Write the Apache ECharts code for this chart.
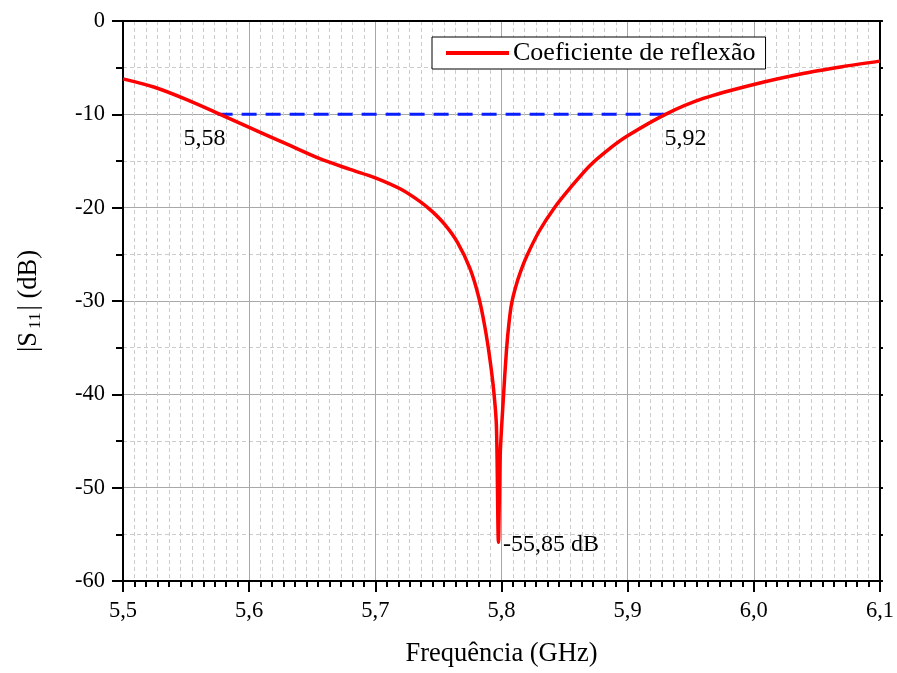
<!DOCTYPE html>
<html>
<head>
<meta charset="utf-8">
<script src="https://cdn.jsdelivr.net/npm/echarts@6/dist/echarts.min.js"></script>
<style>
  html, body { margin: 0; padding: 0; background: #fff; }
  #chart { width: 897px; height: 673px; }
</style>
</head>
<body>
<div id="chart"></div>
<script>
// Measured return loss |S11| versus frequency
const freqGHz = [5.50, 5.525, 5.55, 5.577, 5.60, 5.63, 5.655, 5.68, 5.70, 5.72, 5.735, 5.745, 5.755,
  5.765, 5.775, 5.782, 5.787, 5.791, 5.794, 5.796, 5.7976, 5.799, 5.8016, 5.804, 5.806, 5.808,
  5.811, 5.815, 5.82, 5.83, 5.842, 5.855, 5.87, 5.885, 5.90, 5.93, 5.96, 6.0, 6.04, 6.07, 6.1];
const s11dB = [-6.2, -7.1, -8.4, -10.0, -11.4, -13.2, -14.7, -15.9, -16.8, -18.0, -19.3, -20.4, -21.8,
  -23.7, -26.5, -29.6, -32.9, -36.4, -39.8, -43.4, -55.85, -46.5, -40.2, -35.2, -32.3, -30.3,
  -28.6, -26.9, -25.2, -22.5, -20.0, -17.8, -15.5, -13.75, -12.3, -10.0, -8.3, -6.8, -5.6, -4.9, -4.3];

// -10 dB bandwidth marker
const bandEdges = [5.575, 5.93];
const bandLevel = -10;
const bandLabels = ['5,58', '5,92'];

// Resonance minimum
const minFreq = 5.7976;
const minValue = -55.85;

const xTicks = { min: 5.5, max: 6.1, interval: 0.1 };
const yTicks = { min: -60, max: 0, interval: 10 };

const serif = 'Liberation Serif';
const fmtComma = v => v.toFixed(1).replace('.', ',');

const chart = echarts.init(document.getElementById('chart'), null, { renderer: 'canvas' });

const curve = freqGHz.map((f, i) => [f, s11dB[i]]);
const bandLine = bandEdges.map(f => [f, bandLevel]);

const annoText = { fontFamily: serif, fontSize: 24, color: '#000', opacity: 1, textBorderWidth: 0 };
const annotations = [
  { value: [bandEdges[0], bandLevel], label: Object.assign({ show: true, position: 'bottom', distance: 12, offset: [-13, 0], formatter: bandLabels[0] }, annoText) },
  { value: [bandEdges[1], bandLevel], label: Object.assign({ show: true, position: 'bottom', distance: 12, offset: [20, 0], formatter: bandLabels[1] }, annoText) },
  { value: [minFreq, minValue], label: Object.assign({ show: true, position: 'right', distance: 4, offset: [0, 2], formatter: minValue.toFixed(2).replace('.', ',') + ' dB' }, annoText) }
];

const gridLine = { show: true, lineStyle: { color: '#a8a8a8', width: 1 } };
const minorGrid = { show: true, lineStyle: { color: '#cccccc', width: 1, type: [4, 3] } };

chart.setOption({
  animation: false,
  backgroundColor: '#fff',
  grid: { left: 123, right: 13, top: 21, bottom: 88, containLabel: false },
  legend: {
    data: ['Coeficiente de reflexão'],
    left: 432, top: 37,
    padding: [3, 10, 3, 14],
    backgroundColor: '#fff',
    borderColor: '#000', borderWidth: 1, borderRadius: 0,
    itemWidth: 63, itemHeight: 4, itemGap: 6,
    icon: 'rect',
    textStyle: { fontFamily: serif, fontSize: 26, color: '#000', padding: [0, 0, 0, -1] }
  },
  xAxis: [{
    type: 'value',
    min: xTicks.min, max: xTicks.max, interval: xTicks.interval,
    name: 'Frequência (GHz)', nameLocation: 'middle', nameGap: 60,
    nameTextStyle: { fontFamily: serif, fontSize: 26.5, color: '#000' },
    axisLine: { show: true, onZero: false, lineStyle: { color: '#000', width: 2 } },
    axisTick: { show: true, inside: false, length: 11, lineStyle: { color: '#000', width: 2 } },
    minorTick: { show: true, splitNumber: 11, length: 6, lineStyle: { color: '#000', width: 2 } },
    axisLabel: { formatter: fmtComma, fontFamily: serif, fontSize: 22.5, color: '#000', margin: 19 },
    splitLine: gridLine,
    minorSplitLine: minorGrid
  }, {
    type: 'value', position: 'top',
    min: xTicks.min, max: xTicks.max, interval: xTicks.interval,
    axisLine: { show: true, onZero: false, lineStyle: { color: '#000', width: 2 } },
    axisTick: { show: false }, axisLabel: { show: false }, splitLine: { show: false }
  }],
  yAxis: [{
    type: 'value',
    min: yTicks.min, max: yTicks.max, interval: yTicks.interval,
    name: '{n||S}{s|11}{n|| (dB)}', nameLocation: 'middle', nameGap: 79, nameRotate: 90,
    nameTextStyle: {
      fontFamily: serif, fontSize: 26.5, color: '#000',
      rich: {
        n: { fontFamily: serif, fontSize: 26.5, color: '#000', lineHeight: 30, verticalAlign: 'middle' },
        s: { fontFamily: serif, fontSize: 17, color: '#000', lineHeight: 30, verticalAlign: 'bottom', padding: [17, 2, 0, 3] }
      }
    },
    axisLine: { show: true, onZero: false, lineStyle: { color: '#000', width: 2 } },
    axisTick: { show: true, inside: false, length: 11, lineStyle: { color: '#000', width: 2 } },
    minorTick: { show: true, splitNumber: 2, length: 7, lineStyle: { color: '#000', width: 2 } },
    axisLabel: { fontFamily: serif, fontSize: 22.5, color: '#000', margin: 18 },
    splitLine: gridLine,
    minorSplitLine: minorGrid
  }, {
    type: 'value', position: 'right',
    min: yTicks.min, max: yTicks.max, interval: yTicks.interval,
    axisLine: { show: true, onZero: false, lineStyle: { color: '#000', width: 2 } },
    axisTick: { show: true, inside: false, length: 3, lineStyle: { color: '#000', width: 2 } },
    minorTick: { show: true, splitNumber: 2, length: 3, lineStyle: { color: '#000', width: 2 } },
    axisLabel: { show: false }, splitLine: { show: false }
  }],
  series: [{
    name: '-10 dB',
    type: 'line',
    data: bandLine,
    symbol: 'none',
    lineStyle: { color: '#0a1fff', width: 3, type: [15, 9] },
    z: 3
  }, {
    name: 'Coeficiente de reflexão',
    type: 'line',
    data: curve,
    smooth: 0.3,
    symbol: 'none',
    color: '#ff0000',
    lineStyle: { color: '#ff0000', width: 3.5 },
    z: 4
  }, {
    name: 'anotações',
    type: 'scatter',
    data: annotations,
    symbolSize: 1,
    itemStyle: { color: 'rgba(0,0,0,0)', opacity: 1 },
    silent: true,
    z: 5
  }]
});
</script>
</body>
</html>
